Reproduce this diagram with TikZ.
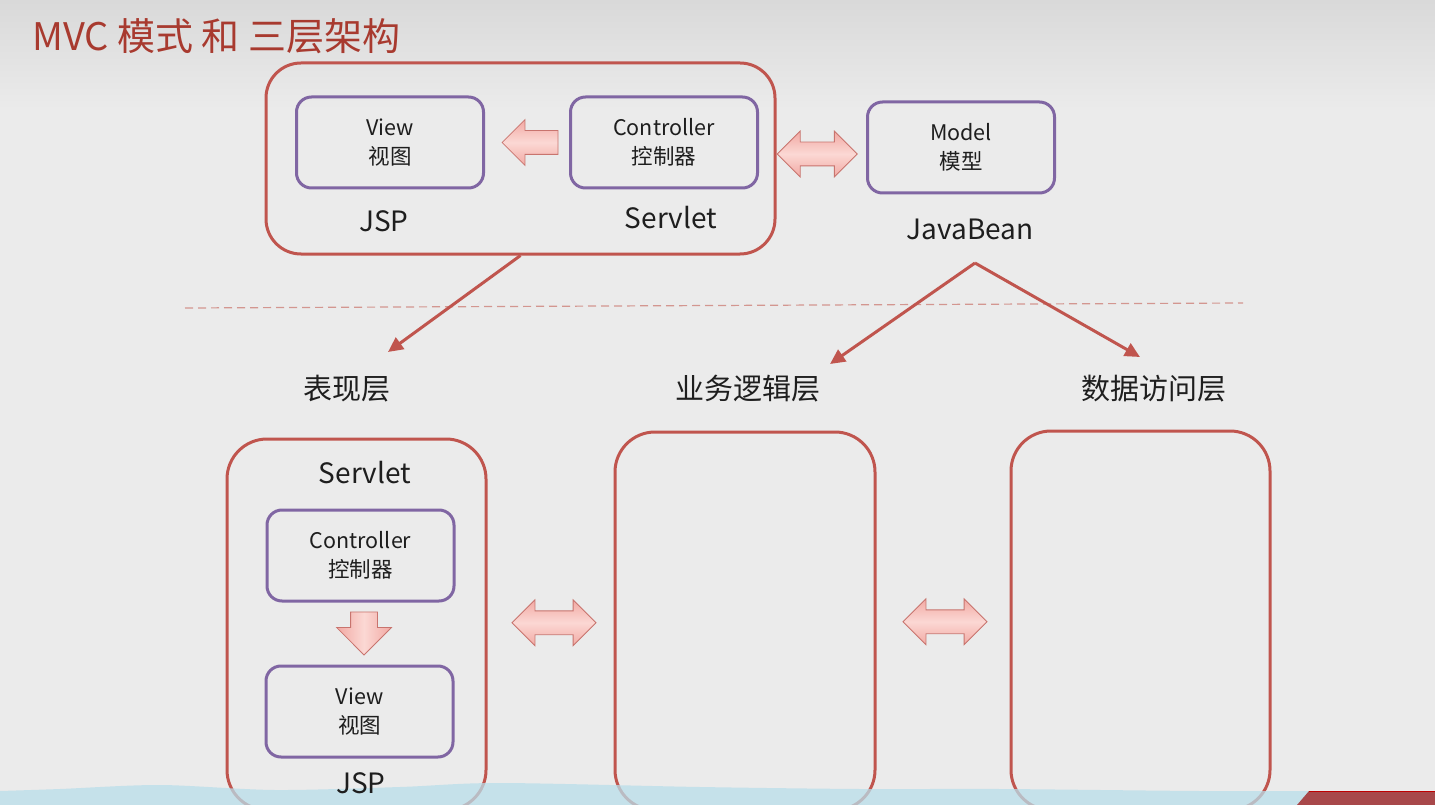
\documentclass[tikz,border=0pt]{standalone}
\usepackage{fontspec}
\setmainfont{Noto Sans CJK SC}
\usetikzlibrary{arrows.meta,shapes.arrows,calc}

\definecolor{bg}{HTML}{EBEBEB}
\definecolor{bgtop}{HTML}{D9D9D9}
\definecolor{boxred}{HTML}{C0554E}
\definecolor{boxpurple}{HTML}{8066A3}
\definecolor{titlered}{HTML}{A83A2F}
\definecolor{pinkedge}{HTML}{C8746E}
\definecolor{pinkdark}{HTML}{F2A9A3}
\definecolor{pinklight}{HTML}{FBD8D4}
\definecolor{dashred}{HTML}{D39690}
\definecolor{wave}{HTML}{B9DEEA}
\definecolor{banner}{HTML}{A8484A}
\definecolor{ink}{HTML}{1E1E1E}

\tikzset{
  redbox/.style={draw=boxred, line width=3pt, rounded corners=#1, inner sep=0pt},
  purplebox/.style={draw=boxpurple, line width=3pt, rounded corners=15pt,
    minimum width=187pt, minimum height=91pt, inner sep=0pt, align=center,
    text=ink, font=\fontsize{21.5}{29}\selectfont},
  label/.style={text=ink, inner sep=0pt, font=\fontsize{28}{30}\selectfont},
  layer/.style={text=ink, inner sep=0pt, font=\fontsize{29}{30}\selectfont},
  fatbase/.style={draw=pinkedge, line width=0.8pt,
    top color=pinkdark, bottom color=pinkdark, middle color=pinklight},
  fatleft/.style={fatbase, single arrow, shape border rotate=180,
    inner xsep=0pt, inner ysep=11.5pt,
    minimum height=56pt, single arrow head extend=11pt},
  fatdown/.style={fatbase, single arrow, shape border rotate=270, shading angle=90,
    inner xsep=13pt, inner ysep=0pt, minimum height=43pt, single arrow head extend=14pt},
  fatboth/.style={fatbase, double arrow, inner xsep=0pt, inner ysep=11.5pt,
    minimum height=#1, double arrow head extend=11pt},
  conn/.style={draw=boxred, line width=3pt, -{Triangle[length=15pt,width=14pt]}},
}

\begin{document}
\begin{tikzpicture}[x=1pt,y=-1pt]
  \useasboundingbox (0,0) rectangle (1435,805);
  \clip (0,0) rectangle (1435,805);

  % slide background
  \fill[bg] (0,0) rectangle (1435,805);
  \shade[top color=bgtop, bottom color=bg] (0,0) rectangle (1435,110);

  % title
  \node[anchor=west, text=titlered, inner sep=0pt,
        font=\fontsize{38}{40}\selectfont] (title) at (32,36) {MVC 模式 和 三层架构};

  % ---- MVC part ----
  \node[redbox=35pt, minimum width=509pt, minimum height=191pt] (web) at (520.5,158.5) {};
  \node[purplebox] (view) at (390,142.5) {View\\视图};
  \node[purplebox] (ctrl) at (664,142.5) {Controller\\控制器};
  \node[purplebox] (model) at (961,147.5) {Model\\模型};

  \node[label] (jsp) at (384,221) {JSP};
  \node[label] (servlet) at (671,218) {Servlet};
  \node[label] (javabean) at (970,229) {JavaBean};

  \node[fatleft, anchor=tip] (c2v) at ($(view.east)+(16.5,0)$) {};
  \node[fatboth=80pt] (c2m) at ($(web.east)!0.5!(model.west)+(-4,1)$) {};

  % separator
  \coordinate (sepL) at (185,308);
  \coordinate (sepR) at (1243,303);
  \draw[dashred, line width=1.2pt, dash pattern=on 8pt off 5pt] (sepL) -- (sepR);

  % ---- three tiers ----
  \node[layer] (pres) at (347,389) {表现层};
  \node[layer] (biz) at (748,389) {业务逻辑层};
  \node[layer] (dao) at (1154,389) {数据访问层};

  \coordinate (presTip) at (388,352);
  \coordinate (bizTip) at (830,364);
  \coordinate (daoTip) at (1140,357);
  \coordinate (beanRoot) at (975,263);

  \draw[conn] (web.south) -- (presTip);
  \draw[conn] (beanRoot) -- (bizTip);
  \draw[conn] (beanRoot) -- (daoTip);

  \node[redbox=40pt, minimum width=259pt, minimum height=371pt] (presBox) at (356.5,624.5) {};
  \node[redbox=40pt, minimum width=260pt, minimum height=378pt] (bizBox) at (745,621) {};
  \node[redbox=40pt, minimum width=259pt, minimum height=379pt] (daoBox) at (1140.5,620.5) {};

  \node[label] (servlet2) at (365,473) {Servlet};
  \node[purplebox] (ctrl2) at (360.5,555.5) {Controller\\控制器};
  \node[purplebox] (view2) at (359.5,711.5) {View\\视图};

  \node[fatdown, anchor=tip] (c2v2) at ($(view2.north)+(4.5,-9)$) {};
  \node[fatboth=84pt] (p2b) at ($(presBox.east)!0.5!(bizBox.west)+(3.5,0)$) {};
  \node[fatboth=84pt] (b2d) at ($(bizBox.east)!0.5!(daoBox.west)+(2,1)$) {};

  % footer wave and banner
  \fill[wave, opacity=0.75] plot[smooth] coordinates {(0,791) (60,789) (160,785) (275,790)
      (400,787) (499,783) (700,787) (860,789) (1000,789) (1200,791) (1320,791)}
      -- (1320,805) -- (0,805) -- cycle;
  \fill[banner] (1297,805) -- (1309,791) -- (1435,791) -- (1435,805) -- cycle;
  \draw[red!75!black, line width=1pt] (1309,791) -- (1435,791);

  \node[label] (jsp2) at (361,783) {JSP};
\end{tikzpicture}
\end{document}
